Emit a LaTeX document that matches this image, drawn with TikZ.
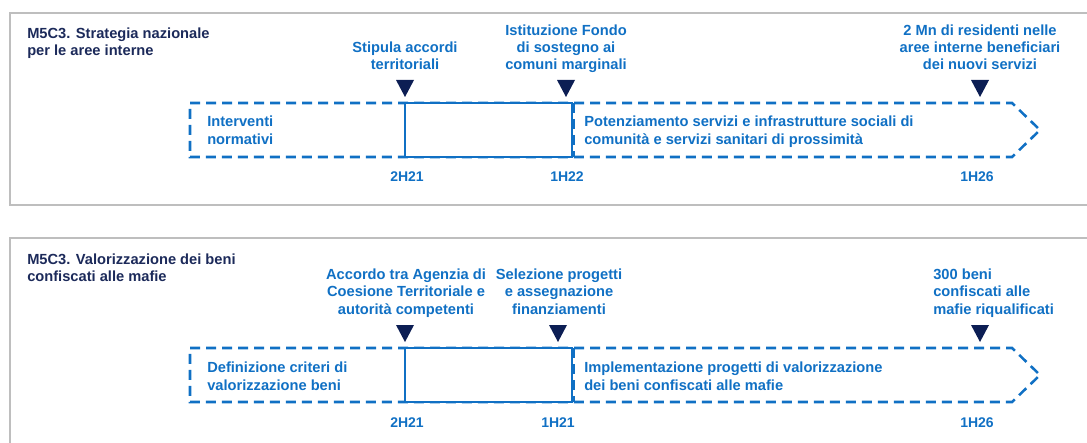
\documentclass[tikz,border=0pt]{standalone}
\usepackage{fontspec}
\setmainfont{Liberation Sans}
\definecolor{tblue}{RGB}{16,112,196}
\definecolor{navy}{RGB}{12,30,84}
\definecolor{titlenavy}{RGB}{28,42,90}
\definecolor{frame}{RGB}{190,190,190}
\begin{document}
\begin{tikzpicture}[x=0.75pt,y=-0.75pt,
  txt/.style={inner sep=0pt,font=\fontsize{11}{13}\selectfont\bfseries,text=tblue},
  ttl/.style={txt,text=titlenavy,align=left,anchor=base west},
  lbl/.style={txt,align=center,anchor=base},
  inner/.style={txt,font=\fontsize{11}{13.5}\selectfont\bfseries,align=left,anchor=base west},
  date/.style={txt,font=\fontsize{10.5}{13}\selectfont\bfseries,anchor=base},
  dashbox/.style={draw=tblue,line width=1.9pt,dash pattern=on 7.5pt off 4.5pt},
  solidbox/.style={draw=tblue,line width=1.9pt},
  panel/.style={draw=frame,line width=1.8pt},
  milestone/.pic={\fill[navy] (-9,0) -- (9,0) -- (0,17) -- cycle;}
]
\useasboundingbox (0,0) rectangle (1087,442);
% ---------- Panel 1 ----------
\draw[panel] (1095,13) -- (10,13) -- (10,205) -- (1095,205);
\node[ttl] (t1) at (27,56) {M5C3. Strategia nazionale\\per le aree interne};
\draw[dashbox] (190,103) -- (1012,103) -- (1040,130) -- (1012,157) -- (190,157) -- cycle;
\draw[dashbox] (574,103) -- (574,157);
\draw[solidbox,fill=white] (405,103) rectangle (572,157);
\pic at (405,80) {milestone};
\pic at (566,80) {milestone};
\pic at (980,80) {milestone};
\node[lbl] (l11) at (405,70) {Stipula accordi\\territoriali};
\node[lbl] (l12) at (566,70) {Istituzione Fondo\\di sostegno ai\\comuni marginali};
\node[lbl] (l13) at (980,70) {2 Mn di residenti nelle\\aree interne beneficiari\\dei nuovi servizi};
\node[inner] (i11) at (207,145) {Interventi\\normativi};
\node[inner] (i12) at (584,145) {Potenziamento servizi e infrastrutture sociali di\\comunità e servizi sanitari di prossimità};
\node[date] (d11) at (407,181.5) {2H21};
\node[date] (d12) at (567,181.5) {1H22};
\node[date] (d13) at (977,181.5) {1H26};
% ---------- Panel 2 ----------
\draw[panel] (1095,238) -- (10,238) -- (10,450);
\node[ttl] (t2) at (27,281.5) {M5C3. Valorizzazione dei beni\\confiscati alle mafie};
\draw[dashbox] (190,348) -- (1012,348) -- (1040,375) -- (1012,402) -- (190,402) -- cycle;
\draw[dashbox] (574,348) -- (574,402);
\draw[solidbox,fill=white] (405,348) rectangle (572,402);
\pic at (405,325) {milestone};
\pic at (558,325) {milestone};
\pic at (980,325) {milestone};
\node[lbl] (l21) at (406,314) {Accordo tra Agenzia di\\Coesione Territoriale e\\autorità competenti};
\node[lbl] (l22) at (559,314) {Selezione progetti\\e assegnazione\\finanziamenti};
\node[txt,align=left,anchor=base west] (l23) at (933,314) {300 beni\\confiscati alle\\mafie riqualificati};
\node[inner] (i21) at (207,390.5) {Definizione criteri di\\valorizzazione beni};
\node[inner] (i22) at (584,390.5) {Implementazione progetti di valorizzazione\\dei beni confiscati alle mafie};
\node[date] (d21) at (407,427.5) {2H21};
\node[date] (d22) at (558,427.5) {1H21};
\node[date] (d23) at (977,427.5) {1H26};
\end{tikzpicture}
\end{document}
